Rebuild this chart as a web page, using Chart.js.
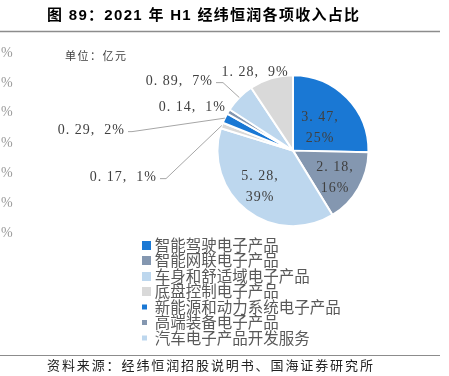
<!DOCTYPE html>
<html><head><meta charset="utf-8">
<script src="https://cdn.jsdelivr.net/npm/chart.js@4.4.1/dist/chart.umd.min.js"></script>
<style>html,body{margin:0;padding:0;background:#fff;}</style>
</head><body>
<canvas id="c" width="449" height="376"></canvas>
<script>
// ---- data ----
const categories = ['智能驾驶电子产品','智能网联电子产品','车身和舒适域电子产品','底盘控制电子产品','新能源和动力系统电子产品','高端装备电子产品','汽车电子产品开发服务','其他'];
const values = [3.47, 2.18, 5.28, 0.17, 0.29, 0.14, 0.89, 1.28];
const percents = [25, 16, 39, 1, 2, 1, 7, 9];
const legendCount = 7;
const titleText = '图 89：2021 年 H1 经纬恒润各项收入占比';
const unitText = '单位：亿元';
const sourceText = '资料来源：经纬恒润招股说明书、国海证券研究所';

// ---- styling ----
const palette = ['#1a78d4', '#8497b0', '#bdd7ee', '#d9d9d9'];
const colors = values.map((_, i) => palette[i % palette.length]);
const smallBox = [false, false, false, false, true, true, true, true];
// label placement relative to pie centre
const labelPlacement = [
  {type: 'in', dx: 27, dy: -23},
  {type: 'in', dx: 42, dy: 27.5},
  {type: 'in', dx: -33, dy: 36.5},
  {type: 'out', align: 'right', dx: -136, dy: 27, leader: 6},
  {type: 'out', align: 'right', dx: -168, dy: -20, leader: 4},
  {type: 'out', align: 'right', dx: -67, dy: -43.5},
  {type: 'out', align: 'right', dx: -80, dy: -69, leader: 7},
  {type: 'out', align: 'center', dx: -38, dy: -78.5}
];
const edgeMarkY = [53, 83, 112, 143, 173, 203, 233];

function boxImage(color, small) {
  const c = document.createElement('canvas');
  c.width = 14; c.height = 9;
  const g = c.getContext('2d');
  g.fillStyle = color;
  if (small) g.fillRect(5, 2, 5, 5); else g.fillRect(5, 0, 9, 9);
  return c;
}

const decorPlugin = {
  id: 'decor',
  afterDraw(chart) {
    const ctx = chart.ctx;
    ctx.save();
    // title
    ctx.fillStyle = '#000';
    ctx.textBaseline = 'middle';
    ctx.textAlign = 'left';
    ctx.font = "bold 15px 'Liberation Sans', 'Noto Sans CJK SC'";
    ctx.letterSpacing = '1.3px';
    ctx.fillText(titleText, 47, 15.5);
    // rules
    ctx.letterSpacing = '0px';
    ctx.strokeStyle = '#8c8c8c';
    ctx.lineWidth = 1.5;
    ctx.beginPath(); ctx.moveTo(0, 31.5); ctx.lineTo(440, 31.5); ctx.stroke();
    ctx.lineWidth = 1;
    ctx.beginPath(); ctx.moveTo(0, 355.5); ctx.lineTo(440, 355.5); ctx.stroke();
    // unit
    ctx.fillStyle = '#404040';
    ctx.font = "11px 'Noto Sans CJK SC'";
    ctx.letterSpacing = '1.5px';
    ctx.fillText(unitText, 65, 56);
    // source
    ctx.fillStyle = '#222';
    ctx.font = "13px 'Noto Sans CJK SC'";
    ctx.letterSpacing = '1.9px';
    ctx.fillText(sourceText, 47, 365.5);
    // cut-off marks at left edge
    ctx.letterSpacing = '0px';
    ctx.fillStyle = '#9a9a9a';
    ctx.font = "14px 'Liberation Serif'";
    edgeMarkY.forEach(y => ctx.fillText('%', 1, y));
    ctx.restore();
  }
};

const labelPlugin = {
  id: 'sliceLabels',
  afterDatasetsDraw(chart) {
    const ctx = chart.ctx;
    const meta = chart.getDatasetMeta(0);
    ctx.save();
    ctx.font = "14px 'Liberation Serif', 'Noto Sans CJK SC'";
    ctx.fillStyle = '#404040';
    ctx.letterSpacing = '1px';
    ctx.textBaseline = 'middle';
    meta.data.forEach((arc, i) => {
      const p = labelPlacement[i];
      const pr = arc.getProps(['x', 'y', 'startAngle', 'endAngle', 'outerRadius'], true);
      const v = values[i].toFixed(2).replace('.', '. ');
      const pct = percents[i] + '%';
      const ax = pr.x + p.dx, ay = pr.y + p.dy;
      if (p.type === 'in') {
        ctx.textAlign = 'center';
        ctx.fillText(v + ',', ax, ay - 10.5);
        ctx.fillText(pct, ax, ay + 10.5);
      } else {
        ctx.textAlign = p.align;
        ctx.fillText(v + ',  ' + pct, ax, ay);
        if (p.leader) {
          const mid = (pr.startAngle + pr.endAngle) / 2;
          const ex = pr.x + Math.cos(mid) * pr.outerRadius;
          const ey = pr.y + Math.sin(mid) * pr.outerRadius;
          ctx.strokeStyle = '#a6a6a6';
          ctx.lineWidth = 1;
          ctx.beginPath();
          ctx.moveTo(ax + 3, ay + 1);
          ctx.lineTo(ax + 3 + p.leader, ay + 1);
          ctx.lineTo(ex, ey);
          ctx.stroke();
        }
      }
    });
    ctx.restore();
  }
};

new Chart(document.getElementById('c'), {
  type: 'pie',
  data: {
    labels: categories,
    datasets: [{
      data: values,
      backgroundColor: colors,
      borderColor: '#ffffff',
      borderWidth: 2,
      radius: 75.5
    }]
  },
  options: {
    responsive: false,
    animation: false,
    devicePixelRatio: 1,
    layout: {padding: {left: 141, right: 4, top: 64, bottom: 20.25}},
    plugins: {
      tooltip: {enabled: false},
      legend: {
        position: 'bottom',
        align: 'start',
        labels: {
          usePointStyle: true,
          boxWidth: 6,
          boxHeight: 9,
          padding: 0,
          color: '#595959',
          font: {family: "'Noto Sans CJK SC'", size: 15.5},
          generateLabels(chart) {
            return categories.slice(0, legendCount).map((t, i) => ({
              text: t + '\u3000\u3000\u3000\u3000',
              fillStyle: colors[i],
              strokeStyle: colors[i],
              lineWidth: 0,
              fontColor: '#595959',
              pointStyle: boxImage(colors[i], smallBox[i]),
              hidden: false,
              index: i
            }));
          }
        }
      }
    }
  },
  plugins: [labelPlugin, decorPlugin]
});
</script>
</body></html>
